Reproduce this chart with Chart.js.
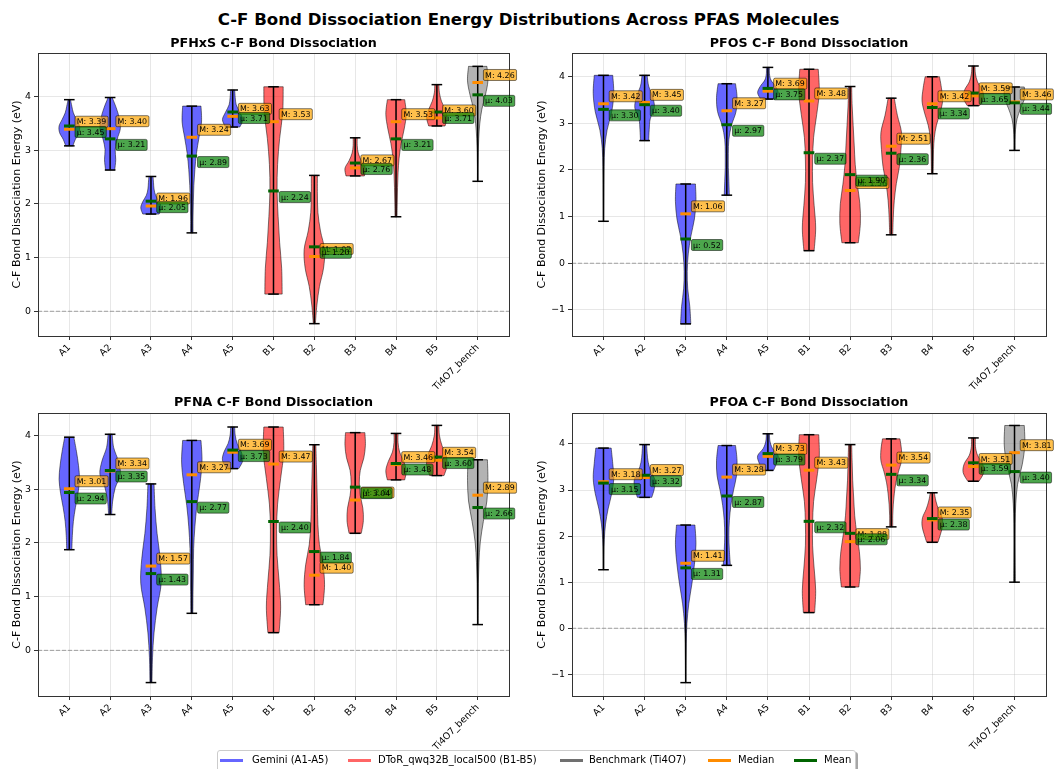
<!DOCTYPE html>
<html>
<head>
<meta charset="utf-8">
<script src="https://cdn.jsdelivr.net/npm/chart.js@4.4.1/dist/chart.umd.min.js"></script>
<style>
  body { margin: 0; width: 1057px; height: 769px; background: #fff; position: relative; overflow: hidden; font-family: "DejaVu Sans", sans-serif; }
  #title { position: absolute; top: 10px; left: 0; width: 1057px; text-align: center; font-weight: bold; font-size: 16.6px; line-height: 20px; color: #000; }
  canvas { position: absolute; }
  #legend { position: absolute; left: 217px; top: 750px; width: 637px; height: 26px; border: 1px solid #cccccc; border-radius: 3px; background: #fff; box-shadow: 2px 2px 0 rgba(0,0,0,0.35); font-size: 10px; color: #000; }
  #legend .h { position: absolute; top: 8px; width: 23px; height: 3px; }
  #legend .t { position: absolute; top: 3px; line-height: 12px; white-space: nowrap; }
</style>
</head>
<body>
<div id="title">C-F Bond Dissociation Energy Distributions Across PFAS Molecules</div>
<canvas id="c1" width="530" height="388" style="left:0;top:28px"></canvas>
<canvas id="c2" width="527" height="388" style="left:530px;top:28px"></canvas>
<canvas id="c3" width="530" height="381" style="left:0;top:388px"></canvas>
<canvas id="c4" width="527" height="381" style="left:530px;top:388px"></canvas>
<div id="legend">
  <span class="h" style="left:2px;background:rgba(0,0,255,0.6)"></span><span class="t" style="left:34px">Gemini (A1-A5)</span>
  <span class="h" style="left:130px;background:rgba(255,0,0,0.6)"></span><span class="t" style="left:160px">DToR_qwq32B_local500 (B1-B5)</span>
  <span class="h" style="left:342px;background:#707070"></span><span class="t" style="left:371px">Benchmark (Ti4O7)</span>
  <span class="h" style="left:490px;background:#ff8c00"></span><span class="t" style="left:520px">Median</span>
  <span class="h" style="left:576px;background:#006400"></span><span class="t" style="left:606px">Mean</span>
</div>
<script>
const categories = ['A1', 'A2', 'A3', 'A4', 'A5', 'B1', 'B2', 'B3', 'B4', 'B5', 'Ti4O7_bench'];
const groups = ['A', 'A', 'A', 'A', 'A', 'B', 'B', 'B', 'B', 'B', 'T'];

// PFHxS
const pfhxsMin = [3.08, 2.63, 1.81, 1.46, 3.43, 0.32, -0.23, 2.52, 1.76, 3.45, 2.42];
const pfhxsMax = [3.94, 3.98, 2.51, 3.82, 4.12, 4.18, 2.53, 3.23, 3.94, 4.22, 4.56];
const pfhxsMedian = [3.39, 3.40, 1.96, 3.24, 3.63, 3.53, 1.02, 2.67, 3.53, 3.60, 4.26];
const pfhxsMean = [3.45, 3.21, 2.05, 2.89, 3.71, 2.24, 1.20, 2.76, 3.21, 3.71, 4.03];
// density profile of each violin, bottom (min) to top (max), relative to its widest point
const pfhxsShape = [
  [0.35, 0.6, 0.95, 1.0, 0.7, 0.4, 0.25, 0.12],
  [0.45, 0.55, 0.5, 0.7, 1.0, 0.9, 0.6, 0.2],
  [0.8, 1.0, 0.8, 0.45, 0.3, 0.25, 0.2],
  [0.12, 0.12, 0.15, 0.2, 0.3, 0.45, 0.7, 0.95, 0.9],
  [0.7, 1.0, 0.7, 0.35, 0.25, 0.2],
  [0.85, 0.8, 0.6, 0.45, 0.35, 0.4, 0.6, 0.9, 0.95],
  [0.1, 0.25, 0.5, 0.9, 1.0, 0.6, 0.35, 0.3, 0.3],
  [0.9, 1.0, 0.6, 0.3, 0.2, 0.2],
  [0.1, 0.12, 0.15, 0.2, 0.3, 0.5, 0.8, 1.0, 0.85],
  [0.8, 1.0, 0.8, 0.45, 0.25, 0.2],
  [0.03, 0.03, 0.05, 0.1, 0.2, 0.4, 0.75, 1.0, 0.9]
];
const pfhxsTicks = [0, 1, 2, 3, 4];

// PFOS
const pfosMin = [0.90, 2.63, -1.30, 1.46, 3.52, 0.27, 0.44, 0.61, 1.92, 3.38, 2.42];
const pfosMax = [4.03, 4.03, 1.70, 3.85, 4.20, 4.16, 3.79, 3.54, 4.00, 4.23, 3.78];
const pfosMedian = [3.42, 3.45, 1.06, 3.27, 3.69, 3.48, 1.56, 2.51, 3.42, 3.59, 3.46];
const pfosMean = [3.30, 3.40, 0.52, 2.97, 3.75, 2.37, 1.90, 2.36, 3.34, 3.65, 3.44];
const pfosShape = [
  [0.02, 0.03, 0.04, 0.06, 0.12, 0.35, 0.8, 1.0, 0.9],
  [0.4, 0.45, 0.55, 0.95, 0.8, 0.4, 0.25],
  [0.5, 0.4, 0.2, 0.15, 0.25, 0.5, 0.85, 1.0, 0.95],
  [0.25, 0.2, 0.15, 0.15, 0.2, 0.45, 0.9, 1.0, 0.85],
  [0.7, 1.0, 0.75, 0.3, 0.15, 0.15],
  [0.5, 0.65, 0.5, 0.35, 0.35, 0.45, 0.75, 1.0, 0.9],
  [0.8, 1.0, 0.95, 0.7, 0.5, 0.4, 0.3, 0.2, 0.15],
  [0.15, 0.2, 0.3, 0.5, 0.8, 0.95, 1.0, 0.6, 0.3],
  [0.08, 0.1, 0.12, 0.2, 0.4, 0.75, 1.0, 0.9, 0.7],
  [0.6, 1.0, 0.85, 0.4, 0.2, 0.15],
  [0.05, 0.05, 0.1, 0.25, 0.6, 1.0, 0.95]
];
const pfosTicks = [-1, 0, 1, 2, 3, 4];

// PFNA
const pfnaMin = [1.875, 2.53, -0.60, 0.69, 3.385, 0.33, 0.85, 2.18, 3.175, 3.255, 0.48];
const pfnaMax = [3.97, 4.025, 3.10, 3.91, 4.16, 4.16, 3.83, 4.055, 4.04, 4.19, 3.55];
const pfnaMedian = [3.01, 3.34, 1.57, 3.27, 3.69, 3.47, 1.40, 2.80, 3.46, 3.54, 2.89];
const pfnaMean = [2.94, 3.35, 1.43, 2.77, 3.73, 2.40, 1.84, 3.04, 3.48, 3.60, 2.66];
const pfnaShape = [
  [0.25, 0.3, 0.4, 0.6, 0.85, 1.0, 0.9, 0.7, 0.45],
  [0.15, 0.25, 0.5, 1.0, 0.8, 0.35, 0.2],
  [0.1, 0.15, 0.3, 0.6, 1.0, 0.9, 0.6, 0.4, 0.3],
  [0.1, 0.12, 0.15, 0.18, 0.3, 0.5, 0.8, 1.0, 0.9],
  [0.6, 1.0, 0.85, 0.45, 0.25, 0.2],
  [0.55, 0.7, 0.55, 0.35, 0.3, 0.4, 0.7, 1.0, 0.95],
  [0.85, 1.0, 0.85, 0.5, 0.35, 0.3, 0.25, 0.2, 0.15],
  [0.6, 0.8, 0.75, 0.5, 0.4, 0.5, 0.85, 1.0, 0.95],
  [0.85, 1.0, 0.75, 0.35, 0.2, 0.2],
  [0.7, 1.0, 0.9, 0.5, 0.25, 0.2],
  [0.03, 0.04, 0.06, 0.12, 0.25, 0.55, 0.9, 1.0, 0.95]
];
const pfnaTicks = [0, 1, 2, 3, 4];

// PFOA
const pfoaMin = [1.27, 2.84, -1.18, 1.365, 3.425, 0.34, 0.895, 2.20, 1.865, 3.19, 1.00];
const pfoaMax = [3.91, 3.985, 2.24, 3.965, 4.22, 4.20, 3.985, 4.11, 2.94, 4.13, 4.40];
const pfoaMedian = [3.18, 3.27, 1.41, 3.28, 3.73, 3.43, 1.88, 3.54, 2.35, 3.51, 3.81];
const pfoaMean = [3.15, 3.32, 1.31, 2.87, 3.79, 2.32, 2.06, 3.34, 2.38, 3.59, 3.40];
const pfoaShape = [
  [0.03, 0.04, 0.08, 0.2, 0.45, 0.8, 1.0, 0.9, 0.75],
  [0.7, 0.95, 1.0, 0.6, 0.35, 0.25, 0.2],
  [0.02, 0.03, 0.05, 0.12, 0.3, 0.6, 0.85, 1.0, 0.9],
  [0.35, 0.25, 0.2, 0.25, 0.4, 0.65, 0.95, 1.0, 0.85],
  [0.55, 0.85, 1.0, 0.45, 0.2, 0.15],
  [0.55, 0.65, 0.5, 0.35, 0.35, 0.45, 0.75, 1.0, 0.95],
  [0.85, 1.0, 0.9, 0.65, 0.45, 0.35, 0.25, 0.2, 0.15],
  [0.15, 0.15, 0.2, 0.3, 0.45, 0.7, 1.0, 1.0, 0.85],
  [0.55, 0.8, 1.0, 0.95, 0.6, 0.35, 0.2],
  [0.55, 1.0, 0.9, 0.4, 0.2, 0.2],
  [0.08, 0.06, 0.05, 0.06, 0.12, 0.3, 0.75, 1.0, 0.95]
];
const pfoaTicks = [-1, 0, 1, 2, 3, 4];

const FONT = '"DejaVu Sans", sans-serif';
Chart.defaults.font.family = FONT;
Chart.defaults.color = '#000';

const bodyColor = { A: 'rgba(0,0,255,0.6)', B: 'rgba(255,0,0,0.6)', T: 'rgba(128,128,128,0.6)' };
const violinHalf = 0.25;   // half of the violin width, in category units
const markHalf = 0.13;     // half length of min/max caps and median/mean marks

const panels = [
  { id: 'c1', title: 'PFHxS C-F Bond Dissociation', min: pfhxsMin, max: pfhxsMax, median: pfhxsMedian, mean: pfhxsMean, shape: pfhxsShape, ticks: pfhxsTicks,
    yMin: -0.46, yMax: 4.81, axisW: 38, labelPad: 10.9, padRight: 21, titleTop: 7.7, titleBottom: 2, axisH: 80 },
  { id: 'c2', title: 'PFOS C-F Bond Dissociation', min: pfosMin, max: pfosMax, median: pfosMedian, mean: pfosMean, shape: pfosShape, ticks: pfosTicks,
    yMin: -1.56, yMax: 4.51, axisW: 42, labelPad: 5.9, padRight: 11, titleTop: 7.7, titleBottom: 2, axisH: 80 },
  { id: 'c3', title: 'PFNA C-F Bond Dissociation', min: pfnaMin, max: pfnaMax, median: pfnaMedian, mean: pfnaMean, shape: pfnaShape, ticks: pfnaTicks,
    yMin: -0.85, yMax: 4.42, axisW: 38, labelPad: 10.9, padRight: 21, titleTop: 7.1, titleBottom: 2.7, axisH: 73 },
  { id: 'c4', title: 'PFOA C-F Bond Dissociation', min: pfoaMin, max: pfoaMax, median: pfoaMedian, mean: pfoaMean, shape: pfoaShape, ticks: pfoaTicks,
    yMin: -1.47, yMax: 4.67, axisW: 42, labelPad: 5.9, padRight: 11, titleTop: 7.1, titleBottom: 2.7, axisH: 73 }
];

// one side of a violin as a smooth curve through the profile points
function traceSide(ctx, pts, cx, sgn) {
  const n = pts.length;
  for (let i = 0; i < n - 1; i++) {
    const p0 = pts[Math.max(i - 1, 0)], p1 = pts[i], p2 = pts[i + 1], p3 = pts[Math.min(i + 2, n - 1)];
    const c1d = Math.max(p1.d + (p2.d - p0.d) / 6, 0), c1y = p1.y + (p2.y - p0.y) / 6;
    const c2d = Math.max(p2.d - (p3.d - p1.d) / 6, 0), c2y = p2.y - (p3.y - p1.y) / 6;
    ctx.bezierCurveTo(cx + sgn * c1d, c1y, cx + sgn * c2d, c2y, cx + sgn * p2.d, p2.y);
  }
}

function drawBody(ctx, x, y, pos, lo, hi, shape, fill) {
  const cx = x.getPixelForValue(pos);
  const n = shape.length;
  const pts = shape.map((w, k) => ({
    d: x.getPixelForValue(pos + violinHalf * w) - cx,
    y: y.getPixelForValue(lo + (hi - lo) * k / (n - 1))
  }));
  ctx.beginPath();
  ctx.moveTo(cx - pts[0].d, pts[0].y);
  ctx.lineTo(cx + pts[0].d, pts[0].y);
  traceSide(ctx, pts, cx, 1);
  ctx.lineTo(cx - pts[n - 1].d, pts[n - 1].y);
  traceSide(ctx, pts.slice().reverse(), cx, -1);
  ctx.closePath();
  ctx.fillStyle = fill;
  ctx.fill();
  ctx.strokeStyle = 'rgba(0,0,0,0.5)';
  ctx.lineWidth = 1;
  ctx.stroke();
}

function tag(ctx, text, x, yc, fill) {
  const w = ctx.measureText(text).width;
  const bx = x - 1.7, bw = w + 3.6, bh = 11, by = yc - bh / 2;
  ctx.beginPath();
  ctx.roundRect(bx, by, bw, bh, 1.5);
  ctx.fillStyle = fill;
  ctx.fill();
  ctx.strokeStyle = 'rgba(0,0,0,0.5)';
  ctx.lineWidth = 1;
  ctx.stroke();
  ctx.fillStyle = '#000';
  ctx.fillText(text, x, yc + 0.5);
}

function violinLayer(p) {
  return {
    id: 'violinLayer',
    beforeDatasetsDraw(chart) {
      const { ctx, chartArea: a, scales: { x, y } } = chart;
      ctx.save();
      categories.forEach((c, i) => {
        drawBody(ctx, x, y, i + 1, p.min[i], p.max[i], p.shape[i], bodyColor[groups[i]]);
      });
      // zero reference line
      const y0 = y.getPixelForValue(0);
      ctx.strokeStyle = 'rgba(128,128,128,0.7)';
      ctx.lineWidth = 1;
      ctx.setLineDash([4, 2]);
      ctx.beginPath();
      ctx.moveTo(a.left, y0);
      ctx.lineTo(a.right, y0);
      ctx.stroke();
      ctx.setLineDash([]);
      // min-max bars
      ctx.strokeStyle = '#000';
      ctx.lineWidth = 1.5;
      categories.forEach((c, i) => {
        const cx = x.getPixelForValue(i + 1);
        ctx.beginPath();
        ctx.moveTo(cx, y.getPixelForValue(p.min[i]));
        ctx.lineTo(cx, y.getPixelForValue(p.max[i]));
        ctx.stroke();
      });
      ctx.restore();
    },
    afterDatasetsDraw(chart) {
      const { ctx, chartArea: a, scales: { x, y } } = chart;
      ctx.save();
      ctx.strokeStyle = '#333';
      ctx.lineWidth = 1;
      ctx.strokeRect(Math.round(a.left) + 0.5, Math.round(a.top) + 0.5, Math.round(a.right - a.left), Math.round(a.bottom - a.top));
      ctx.font = '7.9px ' + FONT;
      ctx.textAlign = 'left';
      ctx.textBaseline = 'middle';
      categories.forEach((c, i) => {
        const tx = x.getPixelForValue(i + 1) + 7.4;
        tag(ctx, 'M: ' + p.median[i].toFixed(2), tx, y.getPixelForValue(p.median[i]) - 7.5, 'rgba(255,165,0,0.7)');
        tag(ctx, '\u03bc: ' + p.mean[i].toFixed(2), tx, y.getPixelForValue(p.mean[i]) + 6, 'rgba(0,128,0,0.7)');
      });
      ctx.restore();
    }
  };
}

function markRadius(c) {
  const s = c.chart.scales.x;
  return s ? s.getPixelForValue(1 + markHalf) - s.getPixelForValue(1) : 5;
}

function makeChart(p) {
  const pts = vals => vals.map((v, i) => ({ x: i + 1, y: v }));
  const marks = (label, data, color, width, order) => ({
    label, data, order,
    pointStyle: 'line', pointRadius: markRadius, pointHoverRadius: markRadius,
    pointBorderColor: color, pointBorderWidth: width, pointHoverBorderWidth: width,
    showLine: false, clip: false
  });
  new Chart(document.getElementById(p.id), {
    type: 'scatter',
    data: {
      datasets: [
        marks('Mean', pts(p.mean), '#006400', 3, 0),
        marks('Median', pts(p.median), '#ff8c00', 3, 1),
        marks('Range', pts(p.min).concat(pts(p.max)), '#000', 1.5, 2)
      ]
    },
    options: {
      responsive: false,
      animation: false,
      events: [],
      layout: { padding: { left: 0, right: p.padRight, top: 0, bottom: 0 } },
      plugins: {
        legend: { display: false },
        tooltip: { enabled: false },
        title: {
          display: true, text: p.title, fullSize: false, color: '#000',
          font: { size: 12.7, weight: 'bold', family: FONT },
          padding: { top: p.titleTop, bottom: p.titleBottom }
        }
      },
      scales: {
        x: {
          type: 'linear', min: 0.234, max: 11.766,
          afterFit(s) { s.height = p.axisH; },
          afterBuildTicks(s) { s.ticks = categories.map((c, i) => ({ value: i + 1 })); },
          ticks: {
            autoSkip: false, minRotation: 45, maxRotation: 45, padding: 2,
            color: '#000', font: { size: 9.4, family: FONT },
            callback: v => categories[v - 1]
          },
          grid: { color: 'rgba(176,176,176,0.3)', tickColor: '#333', tickLength: 4, drawTicks: true },
          border: { display: false }
        },
        y: {
          type: 'linear', min: p.yMin, max: p.yMax,
          afterFit(s) { s.width = p.axisW; },
          afterBuildTicks(s) { s.ticks = p.ticks.map(v => ({ value: v })); },
          ticks: {
            padding: 3, color: '#000', font: { size: 9.4, family: FONT },
            callback: v => (v < 0 ? '\u2212' + Math.abs(v) : String(v))
          },
          grid: { color: 'rgba(176,176,176,0.3)', tickColor: '#333', tickLength: 4, drawTicks: true },
          border: { display: false },
          title: {
            display: true, text: 'C-F Bond Dissociation Energy (eV)', color: '#000',
            font: { size: 11, family: FONT }, padding: { top: p.labelPad, bottom: 0 }
          }
        }
      }
    },
    plugins: [violinLayer(p)]
  });
}

panels.forEach(makeChart);
</script>
</body>
</html>
